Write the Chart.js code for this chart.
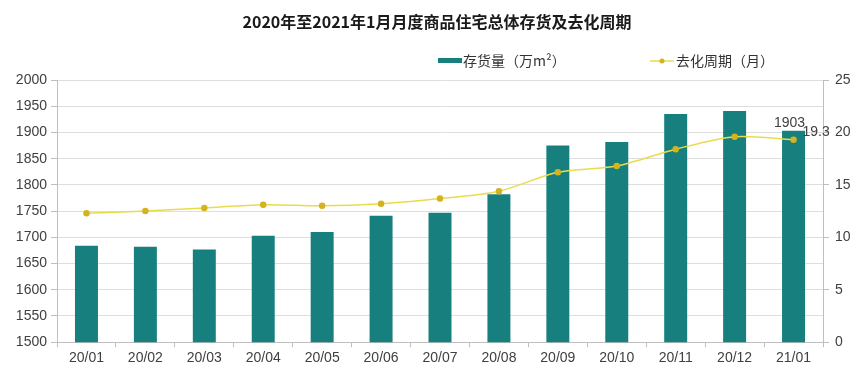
<!DOCTYPE html>
<html><head><meta charset="utf-8">
<script src="https://cdn.jsdelivr.net/npm/chart.js@4.4.0/dist/chart.umd.min.js"></script>
<style>html,body{margin:0;padding:0;background:#fff}#wrap{width:865px;height:384px;position:relative}</style>
</head><body><div id="wrap"><canvas id="c" width="865" height="384"></canvas></div>
<script>
const categories = ["20/01","20/02","20/03","20/04","20/05","20/06","20/07","20/08","20/09","20/10","20/11","20/12","21/01"];
const inventory = [1684, 1682, 1677, 1703, 1710, 1741, 1747, 1782, 1875, 1882, 1935, 1941, 1903];
const cycle = [12.3, 12.5, 12.8, 13.1, 13.0, 13.2, 13.7, 14.4, 16.2, 16.8, 18.4, 19.6, 19.3];
const leftTicks = [1500, 2000, 50];
const rightTicks = [0, 25, 5];
const titleText = "2020年至2021年1月月度商品住宅总体存货及去化周期";
const barLabel = "存货量（万m²）";
const lineLabel = "去化周期（月）";

const BAR = "#17807e", LINE = "#e8dc4c", PT = "#d4b31e", TXT = "#404040";
const FONT = "'Liberation Sans', Arial, sans-serif";
const CJK = "'Noto Sans CJK SC', sans-serif";

const deco = {
  id: 'deco',
  afterDraw(chart) {
    const ctx = chart.ctx;
    ctx.save();
    ctx.fillStyle = "#1a1a1a";
    ctx.font = "bold 16px " + CJK;
    ctx.textAlign = "center"; ctx.textBaseline = "middle";
    ctx.fillText(titleText, 437, 22);
    // legend
    ctx.fillStyle = BAR; ctx.fillRect(438, 58, 24, 5);
    ctx.fillStyle = "#333"; ctx.font = "14px " + CJK; ctx.textAlign = "left";
    ctx.fillText(barLabel, 463, 61);
    ctx.strokeStyle = LINE; ctx.lineWidth = 1.5;
    ctx.beginPath(); ctx.moveTo(650, 61); ctx.lineTo(674, 61); ctx.stroke();
    ctx.fillStyle = PT; ctx.beginPath(); ctx.arc(662, 61, 2.5, 0, Math.PI*2); ctx.fill();
    ctx.fillStyle = "#333"; ctx.fillText(lineLabel, 676, 61);
    // data labels
    const last = inventory.length - 1;
    const bm = chart.getDatasetMeta(0).data[last];
    const lm = chart.getDatasetMeta(1).data[last];
    ctx.font = "14px " + FONT; ctx.fillStyle = TXT;
    ctx.textAlign = "center"; ctx.textBaseline = "middle";
    ctx.fillText(String(inventory[last]), bm.x - 4, bm.y - 17);
    ctx.textAlign = "left";
    ctx.fillText(String(cycle[last]), lm.x + 9, lm.y + 1);
    ctx.restore();
  }
};

new Chart(document.getElementById('c'), {
  data: {
    labels: categories,
    datasets: [
      { type: 'line', label: lineLabel, data: cycle, yAxisID: 'y1', borderColor: LINE, borderWidth: 1.5,
        pointBackgroundColor: PT, pointBorderColor: PT, pointRadius: 2.5, tension: 0.3, order: 0 },
      { type: 'bar', label: barLabel, data: inventory, yAxisID: 'y', backgroundColor: BAR,
        categoryPercentage: 1, barPercentage: 0.39, order: 1 }
    ]
  },
  options: {
    responsive: false, animation: false,
    layout: { padding: { top: 80, bottom: 14, left: 0, right: 0 } },
    plugins: { legend: { display: false }, title: { display: false }, tooltip: { enabled: false } },
    scales: {
      x: {
        offset: true,
        grid: { drawOnChartArea: false, offset: true, tickLength: 5, color: "#bfbfbf" },
        border: { color: "#bfbfbf" },
        ticks: { color: TXT, font: { family: FONT, size: 14 }, padding: 3 }
      },
      y: {
        position: 'left', min: leftTicks[0], max: leftTicks[1],
        ticks: { stepSize: leftTicks[2], color: TXT, font: { family: FONT, size: 14 }, padding: 4,
                 callback: v => String(v) },
        grid: { color: "#dedede", tickLength: 6, tickColor: "#bfbfbf" },
        border: { color: "#bfbfbf" },
        afterFit(s) { s.width = 57; }
      },
      y1: {
        position: 'right', min: rightTicks[0], max: rightTicks[1],
        ticks: { stepSize: rightTicks[2], color: TXT, font: { family: FONT, size: 14 }, padding: 6,
                 callback: v => String(v) },
        grid: { drawOnChartArea: false, tickLength: 6, color: "#bfbfbf" },
        border: { color: "#bfbfbf" },
        afterFit(s) { s.width = 42; }
      }
    }
  },
  plugins: [deco]
});
</script></body></html>
